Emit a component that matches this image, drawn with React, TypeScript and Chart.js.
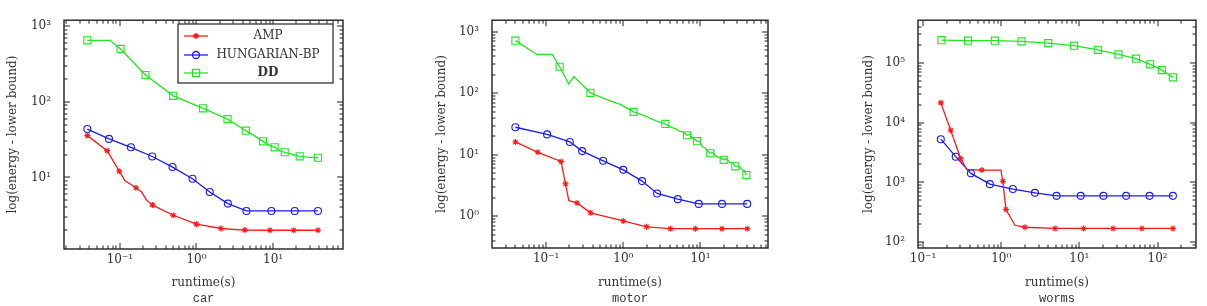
import React, { useEffect, useRef } from 'react';
import { Chart, registerables } from 'chart.js';
import { drawPoint } from 'chart.js/helpers';

Chart.register(...registerables);

// ---------- data: car ----------
const carAmpX = [0.0375, 0.068, 0.098, 0.116, 0.162, 0.192, 0.223, 0.267, 0.497, 1.0, 2.08, 4.27, 9.1, 18.6, 38.6];
const carAmpY = [35.7, 22.6, 12.1, 9.1, 7.3, 6.4, 5.0, 4.3, 3.16, 2.41, 2.11, 2.01, 2.0, 2.0, 2.0];
const carAmpMarks = [0, 1, 2, 4, 7, 8, 9, 10, 11, 12, 13, 14];
const carHunX = [0.0375, 0.072, 0.139, 0.264, 0.487, 0.887, 1.49, 2.57, 4.49, 9.5, 19.2, 38.6];
const carHunY = [43.6, 32.3, 25, 18.9, 13.7, 9.6, 6.4, 4.5, 3.6, 3.6, 3.6, 3.6];
const carHunMarks = [0, 1, 2, 3, 4, 5, 6, 7, 8, 9, 10, 11];
const carDdX = [0.0375, 0.074, 0.102, 0.216, 0.497, 1.22, 2.54, 4.4, 5.6, 7.4, 9.0, 10.5, 12.3, 14.2, 17.5, 22.3, 28, 38.6];
const carDdY = [650, 650, 500, 226, 120, 82, 59, 41.5, 36, 30, 26.5, 25, 22.5, 21.5, 20.3, 19, 18.6, 18.2];
const carDdMarks = [0, 2, 3, 4, 5, 6, 7, 9, 11, 13, 15, 17];
const carXRange = [0.0186, 82];
const carYRange = [1.13, 1200];

// ---------- data: motor ----------
const motorAmpX = [0.04, 0.078, 0.156, 0.178, 0.197, 0.252, 0.376, 1.0, 2.0, 4.08, 8.6, 19, 40.3];
const motorAmpY = [16.2, 11, 7.8, 3.39, 1.8, 1.65, 1.14, 0.84, 0.675, 0.63, 0.63, 0.63, 0.63];
const motorAmpMarks = [0, 1, 2, 3, 5, 6, 7, 8, 9, 10, 11, 12];
const motorHunX = [0.04, 0.103, 0.203, 0.293, 0.548, 1.0, 1.75, 2.74, 5.08, 9.5, 19, 40.3];
const motorHunY = [28.1, 21.5, 16.2, 11.5, 8.0, 5.7, 3.74, 2.35, 1.9, 1.59, 1.59, 1.59];
const motorHunMarks = [0, 1, 2, 3, 4, 5, 6, 7, 8, 9, 10, 11];
const motorDdX = [0.04, 0.076, 0.12, 0.15, 0.196, 0.228, 0.375, 0.6, 0.916, 1.36, 2.0, 2.6, 3.51, 4.2, 4.8, 5.4, 6.0, 6.7, 7.3, 8.0, 9.0, 9.8, 10.6, 11.5, 12.4, 13.4, 14.5, 15.6, 17, 18.5, 20, 22, 24, 26, 28.3, 31, 34, 37, 39.3];
const motorDdY = [720, 430, 430, 271, 142, 188, 102, 80, 66, 50, 42, 36, 31.8, 28, 26.5, 24, 23.5, 20.8, 21.5, 18.5, 16.7, 16.5, 13.5, 13, 11.5, 10.6, 11, 9.6, 9.2, 8.9, 8.3, 8.6, 7.4, 7.6, 6.5, 6.6, 5.9, 5.5, 4.68];
const motorDdMarks = [0, 3, 6, 9, 12, 17, 20, 25, 30, 34, 38];
const motorXRange = [0.0199, 75];
const motorYRange = [0.305, 1550];

// ---------- data: worms ----------
const wormsAmpX = [0.169, 0.226, 0.304, 0.363, 0.565, 0.99, 1.05, 1.15, 1.5, 2.01, 4.88, 11.3, 27, 63, 157];
const wormsAmpY = [21500, 7500, 2500, 1650, 1610, 1610, 1050, 352, 192, 178, 170, 170, 170, 170, 170];
const wormsAmpMarks = [0, 1, 2, 4, 6, 7, 9, 10, 11, 12, 13, 14];
const wormsHunX = [0.169, 0.262, 0.41, 0.716, 1.41, 2.7, 5.1, 10.4, 20.3, 39.6, 78.9, 157];
const wormsHunY = [5300, 2700, 1420, 937, 776, 670, 597, 597, 597, 597, 597, 597];
const wormsHunMarks = [0, 1, 2, 3, 4, 5, 6, 7, 8, 9, 10, 11];
const wormsDdX = [0.172, 0.377, 0.83, 1.82, 4.0, 8.55, 17.2, 31.6, 53, 80.5, 113.6, 157];
const wormsDdY = [241000, 236000, 236000, 230000, 215000, 195000, 166000, 139000, 118000, 95000, 76000, 57500];
const wormsDdMarks = [0, 1, 2, 3, 4, 5, 6, 7, 8, 9, 10, 11];
const wormsXRange = [0.0863, 310];
const wormsYRange = [80, 520000];

const seriesNames = ['AMP', 'HUNGARIAN-BP', 'DD'];
const panelNames = ['car', 'motor', 'worms'];
const xTitle = 'runtime(s)';
const yTitle = 'log(energy - lower bound)';

// ---------- styles ----------
const TEXT = '#333';
const SERIF = '"DejaVu Serif", serif';
const MONO = '"Liberation Mono", monospace';
const STYLES = [
  { color: '#ff1a1a', pointStyle: 'star', radius: 3 },
  { color: '#1a1aff', pointStyle: 'circle', radius: 3.5 },
  { color: '#22e622', pointStyle: 'rect', radius: 5 },
];

const PANELS = [
  { left: 0, width: 400, area: [64, 19, 343, 249], yTitleX: 13, legend: true },
  { left: 400, width: 400, area: [492, 16, 768, 248], yTitleX: 441.5, legend: false },
  { left: 800, width: 407, area: [918, 16, 1196, 248], yTitleX: 868.5, legend: false },
];
const H = 306;

const SUP: Record<string, string> = { '-': '⁻', '0': '⁰', '1': '¹', '2': '²', '3': '³', '4': '⁴', '5': '⁵', '6': '⁶', '7': '⁷', '8': '⁸', '9': '⁹' };
function powLabel(v: number) {
  const e = Math.round(Math.log10(v));
  return '10' + String(e).split('').map((c) => SUP[c]).join('');
}
function tickValues(min: number, max: number) {
  const out: number[] = [];
  for (let e = Math.floor(Math.log10(min)); e <= Math.ceil(Math.log10(max)); e++) {
    for (let m = 1; m <= 9; m++) {
      const v = m * Math.pow(10, e);
      if (v >= min * 0.9999 && v <= max * 1.0001) out.push(v);
    }
  }
  return out;
}
function isPow10(v: number) {
  const e = Math.round(Math.log10(v));
  return Math.abs(v / Math.pow(10, e) - 1) < 1e-6;
}

const framePlugin = {
  id: 'pgfFrame',
  afterDraw(chart: any) {
    const ctx = chart.ctx;
    const a = chart.chartArea;
    const xs = chart.scales.x;
    const ys = chart.scales.y;
    const idx = chart.options.plugins.pgfLegend.panel;
    const d = PANEL_DATA[idx];
    const xv = tickValues(d.xr[0], d.xr[1]);
    const yv = tickValues(d.yr[0], d.yr[1]);
    ctx.save();
    ctx.fillStyle = '#222';
    for (const v of xv) {
      const p = Math.round(xs.getPixelForValue(v));
      if (!(p > a.left + 1 && p < a.right - 1)) continue;
      const len = isPow10(v) ? 6 : 3.5;
      ctx.fillRect(p - 0.5, a.bottom - len, 1, len);
      ctx.fillRect(p - 0.5, a.top, 1, len);
    }
    for (const v of yv) {
      const p = Math.round(ys.getPixelForValue(v));
      if (!(p > a.top + 1 && p < a.bottom - 1)) continue;
      const len = isPow10(v) ? 6 : 3.5;
      ctx.fillRect(a.left, p - 0.5, len, 1);
      ctx.fillRect(a.right - len, p - 0.5, len, 1);
    }
    ctx.lineWidth = 1.4;
    ctx.strokeStyle = '#222';
    ctx.strokeRect(a.left, a.top, a.right - a.left, a.bottom - a.top);
    ctx.restore();
  },
};

const legendPlugin = {
  id: 'pgfLegend',
  afterDraw(chart: any, _args: any, opts: any) {
    if (!opts || !opts.show) return;
    const { ctx } = chart;
    const { x, y, w, h, rows, lineX0, lineX1, textX } = opts;
    ctx.save();
    ctx.fillStyle = '#fff';
    ctx.fillRect(x, y, w, h);
    ctx.strokeStyle = '#222';
    ctx.lineWidth = 1.2;
    ctx.strokeRect(x, y, w, h);
    chart.data.datasets.forEach((ds: any, i: number) => {
      const ry = rows[i];
      ctx.strokeStyle = ds.borderColor;
      ctx.lineWidth = ds.borderWidth;
      ctx.beginPath();
      ctx.moveTo(lineX0, ry);
      ctx.lineTo(lineX1, ry);
      ctx.stroke();
      ctx.fillStyle = 'rgba(0,0,0,0)';
      drawPoint(ctx, { pointStyle: ds.pointStyle, radius: ds.legendRadius, borderWidth: 1, rotation: 0 } as any, (lineX0 + lineX1) / 2, ry);
      ctx.fillStyle = TEXT;
      ctx.font = (ds.legendBold ? 'bold ' : '') + '12px ' + SERIF;
      ctx.textAlign = 'center';
      ctx.textBaseline = 'middle';
      ctx.fillText(ds.label, textX, ry);
    });
    ctx.restore();
  },
};

Chart.defaults.font.family = SERIF;
Chart.defaults.font.size = 12;
Chart.defaults.color = TEXT;

function buildDataset(i: number, xs: number[], ys: number[], marks: number[]) {
  const st = STYLES[i];
  return {
    label: seriesNames[i],
    data: xs.map((x, k) => ({ x, y: ys[k] })),
    borderColor: st.color,
    borderWidth: 1.3,
    pointStyle: st.pointStyle,
    pointBorderColor: st.color,
    pointBackgroundColor: 'rgba(0,0,0,0)',
    pointBorderWidth: 1.1,
    pointRadius: (c: any) => (marks.includes(c.dataIndex) ? st.radius : 0),
    legendRadius: st.radius,
    legendBold: i === 2,
    tension: 0,
    fill: false,
  };
}

const PANEL_DATA = [
  {
    datasets: [
      buildDataset(0, carAmpX, carAmpY, carAmpMarks),
      buildDataset(1, carHunX, carHunY, carHunMarks),
      buildDataset(2, carDdX, carDdY, carDdMarks),
    ],
    xr: carXRange,
    yr: carYRange,
  },
  {
    datasets: [
      buildDataset(0, motorAmpX, motorAmpY, motorAmpMarks),
      buildDataset(1, motorHunX, motorHunY, motorHunMarks),
      buildDataset(2, motorDdX, motorDdY, motorDdMarks),
    ],
    xr: motorXRange,
    yr: motorYRange,
  },
  {
    datasets: [
      buildDataset(0, wormsAmpX, wormsAmpY, wormsAmpMarks),
      buildDataset(1, wormsHunX, wormsHunY, wormsHunMarks),
      buildDataset(2, wormsDdX, wormsDdY, wormsDdMarks),
    ],
    xr: wormsXRange,
    yr: wormsYRange,
  },
];

function makeConfig(idx: number): any {
  const p = PANELS[idx];
  const d = PANEL_DATA[idx];
  const [aL, aT, aR, aB] = p.area;
  const titleLH = 12 * 1.2;
  const subLH = 12 * 1.2;
  const padLeft = p.yTitleX - p.left - titleLH / 2;
  const yWidth = aL - p.left - padLeft;
  const subTop = H - subLH;
  const xHeight = subTop - aB;
  const tickCb = (v: any) => (isPow10(Number(v)) ? powLabel(Number(v)) : '');
  return {
    type: 'line',
    data: { datasets: d.datasets },
    options: {
      animation: false,
      responsive: false,
      events: [],
      layout: { padding: { left: padLeft, top: aT, right: p.left + p.width - aR, bottom: 0 } },
      plugins: {
        legend: { display: false },
        tooltip: { enabled: false },
        title: { display: false },
        subtitle: {
          display: true,
          position: 'bottom',
          fullSize: false,
          text: panelNames[idx],
          color: TEXT,
          font: { family: MONO, size: 12, weight: 'normal', lineHeight: 1.2 },
          padding: { top: 0, bottom: 0 },
        },
        pgfLegend: {
          panel: idx,
          show: p.legend,
          x: 178,
          y: 24,
          w: 155,
          h: 59,
          rows: [36, 55, 73],
          lineX0: 184,
          lineX1: 208,
          textX: 268,
        },
      },
      scales: {
        x: {
          type: 'logarithmic',
          min: d.xr[0],
          max: d.xr[1],
          bounds: 'data',
          grid: { display: false, drawTicks: false },
          border: { display: false },
          afterBuildTicks: (s: any) => {
            s.ticks = tickValues(d.xr[0], d.xr[1]).map((v) => ({ value: v }));
          },
          afterFit: (s: any) => {
            s.height = xHeight;
          },
          ticks: { autoSkip: false, maxRotation: 0, padding: 4, callback: tickCb, color: TEXT, font: { size: 12 } },
          title: {
            display: true,
            text: xTitle,
            color: TEXT,
            font: { size: 12, lineHeight: 1.2 },
            padding: { top: 0, bottom: 1.6 },
          },
        },
        y: {
          type: 'logarithmic',
          min: d.yr[0],
          max: d.yr[1],
          bounds: 'data',
          grid: { display: false, drawTicks: false },
          border: { display: false },
          afterBuildTicks: (s: any) => {
            s.ticks = tickValues(d.yr[0], d.yr[1]).map((v) => ({ value: v }));
          },
          afterFit: (s: any) => {
            s.width = yWidth;
          },
          ticks: { autoSkip: false, padding: 13, callback: tickCb, color: TEXT, font: { size: 12 } },
          title: {
            display: true,
            text: yTitle,
            color: TEXT,
            font: { size: 12, lineHeight: 1.2 },
            padding: { top: 0, bottom: 0 },
          },
        },
      },
    },
    plugins: [framePlugin, legendPlugin],
  };
}

function Panel({ idx }: { idx: number }) {
  const ref = useRef<HTMLCanvasElement>(null);
  useEffect(() => {
    if (!ref.current) return;
    const chart = new Chart(ref.current, makeConfig(idx));
    return () => chart.destroy();
  }, [idx]);
  const p = PANELS[idx];
  return (
    <div style={{ position: 'absolute', left: p.left, top: 0, width: p.width, height: H }}>
      <canvas ref={ref} width={p.width} height={H} style={{ display: 'block', width: p.width, height: H }} />
    </div>
  );
}

export default function App() {
  return (
    <div style={{ position: 'absolute', left: 0, top: 0, width: 1207, height: H, background: '#fff', overflow: 'hidden' }}>
      {PANELS.map((_, i) => (
        <Panel key={i} idx={i} />
      ))}
    </div>
  );
}
